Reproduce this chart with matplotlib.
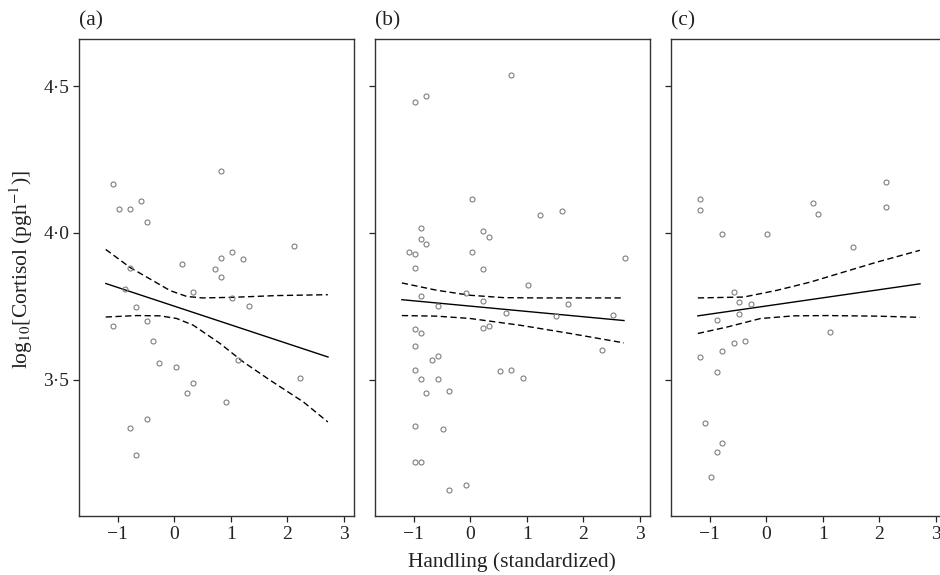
import matplotlib
matplotlib.use("Agg")
import matplotlib.pyplot as plt

plt.rcParams["font.family"] = ["Liberation Serif", "DejaVu Serif"]
plt.rcParams["mathtext.fontset"] = "stix"
plt.rcParams["axes.unicode_minus"] = True

# panel (a)
a_x = [-1.08, -0.97, -0.78, -0.58, -0.48, 0.82, 2.12, 1.02, 0.82, 1.22, 0.13,
       0.72, 0.82, -0.78, -0.87, 0.33, 1.02, 1.33, -0.68, -0.48, -1.08, -0.375,
       -0.27, 0.03, 1.13, 2.23, 0.33, 0.23, 0.92, -0.48, -0.78, -0.68]
a_y = [4.168, 4.08, 4.08, 4.11, 4.036, 4.212, 3.956, 3.934, 3.915, 3.913, 3.896,
       3.877, 3.85, 3.882, 3.81, 3.80, 3.78, 3.75, 3.747, 3.70, 3.684, 3.634,
       3.556, 3.543, 3.567, 3.507, 3.491, 3.456, 3.424, 3.367, 3.336, 3.243]
a_fit_x = [-1.21, 2.72]
a_fit_y = [3.828, 3.578]
a_up_x = [-1.212, -0.777, -0.370, -0.074, 0.221, 0.5, 1.023, 1.814, 2.717]
a_up_y = [3.944, 3.882, 3.837, 3.804, 3.784, 3.779, 3.781, 3.787, 3.79]
a_lo_x = [-1.212, -0.664, -0.251, 0.044, 0.338, 0.81, 1.223, 1.696, 2.285, 2.717]
a_lo_y = [3.714, 3.719, 3.718, 3.709, 3.686, 3.624, 3.561, 3.499, 3.425, 3.357]

# panel (b)
b_x = [0.725, -0.977, -0.777, 0.028, 1.227, 1.624, -0.876, 0.223, 0.324, -0.876,
       -0.777, -1.078, -0.977, 0.028, 2.729, -0.977, 0.223, 1.027, -0.078, -0.876,
       0.223, -0.574, 1.73, 0.624, 1.523, 2.521, -0.977, 0.223, 0.324,
       -0.876, -0.977, -0.676, -0.574, 2.326, -0.977, -0.876, -0.574, 0.53, 0.725,
       0.926, -0.777, -0.379, -0.977, -0.475, -0.977, -0.876, -0.078, -0.379]
b_y = [4.536, 4.444, 4.467, 4.116, 4.061, 4.076, 4.016, 4.006, 3.986, 3.98,
       3.963, 3.934, 3.93, 3.934, 3.916, 3.88, 3.878, 3.822, 3.796, 3.786,
       3.769, 3.752, 3.757, 3.727, 3.716, 3.72, 3.672, 3.677, 3.685,
       3.658, 3.615, 3.569, 3.583, 3.602, 3.533, 3.502, 3.504, 3.529, 3.535,
       3.508, 3.454, 3.464, 3.343, 3.332, 3.221, 3.221, 3.141, 3.124]
b_fit_x = [-1.21, 2.72]
b_fit_y = [3.773, 3.702]
b_up_x = [-1.21, -0.59, 0.0, 0.59, 1.18, 2.72]
b_up_y = [3.83, 3.805, 3.788, 3.78, 3.779, 3.779]
b_lo_x = [-1.21, -0.59, 0.0, 0.886, 1.77, 2.72]
b_lo_y = [3.719, 3.717, 3.709, 3.686, 3.658, 3.626]

# panel (c)
c_x = [-1.177, -1.177, -0.775, 0.021, 0.823, 0.924, 2.122, 2.122, 1.526, -0.575,
       -0.474, -0.274, -0.474, -0.876, 1.124, -0.575, -0.374, -0.775, -1.177,
       -0.876, -1.076, -0.775, -0.876, -0.975]
c_y = [4.114, 4.077, 3.996, 3.996, 4.103, 4.063, 4.173, 4.088, 3.952, 3.798,
       3.765, 3.758, 3.723, 3.703, 3.663, 3.626, 3.631, 3.60, 3.578,
       3.527, 3.352, 3.287, 3.254, 3.168]
c_fit_x = [-1.21, 2.72]
c_fit_y = [3.718, 3.827]
c_up_x = [-1.21, -0.398, 0.192, 0.782, 1.37, 1.96, 2.717]
c_up_y = [3.779, 3.782, 3.805, 3.833, 3.867, 3.901, 3.941]
c_lo_x = [-1.21, -0.692, -0.1, 0.49, 1.08, 1.96, 2.717]
c_lo_y = [3.658, 3.68, 3.709, 3.718, 3.719, 3.717, 3.713]

panel_labels = ["(a)", "(b)", "(c)"]
y_ticks = [3.5, 4.0, 4.5]
y_ticklabels = ["3\u00b75", "4\u00b70", "4\u00b75"]
x_ticks = [-1, 0, 1, 2, 3]

W, H = 940, 575
fig = plt.figure(figsize=(W / 100, H / 100), dpi=100)

lefts = [79, 375, 671]
top, bottom, width = 39, 516, 275

panels = [
    (a_x, a_y, a_fit_x, a_fit_y, a_up_x, a_up_y, a_lo_x, a_lo_y),
    (b_x, b_y, b_fit_x, b_fit_y, b_up_x, b_up_y, b_lo_x, b_lo_y),
    (c_x, c_y, c_fit_x, c_fit_y, c_up_x, c_up_y, c_lo_x, c_lo_y),
]

for i, (px, py, fx, fy, ux, uy, lx, ly) in enumerate(panels):
    ax = fig.add_axes([lefts[i] / W, (H - bottom) / H, width / W, (bottom - top) / H])
    ax.plot(px, py, "o", ms=3.6, mfc="none", mec="#7f7f7f", mew=0.8, zorder=3)
    ax.plot(fx, fy, color="black", lw=1.0)
    ax.plot(ux, uy, color="black", lw=1.0, dashes=(4.5, 2.5))
    ax.plot(lx, ly, color="black", lw=1.0, dashes=(4.5, 2.5))

    ax.set_xlim(-1.685, 3.18)
    ax.set_ylim(3.037, 4.66)
    ax.set_xticks(x_ticks)
    ax.set_yticks(y_ticks)
    if i == 0:
        ax.set_yticklabels(y_ticklabels)
    else:
        ax.set_yticklabels([])
    ax.tick_params(direction="out", length=4, width=0.9, labelsize=14,
                   color="#222222", pad=3, labelcolor="#222222")
    for s in ax.spines.values():
        s.set_color("#333333")
        s.set_linewidth(1.0)
    ax.annotate(panel_labels[i], xy=(0, 1), xycoords="axes fraction",
                xytext=(0, 10), textcoords="offset points",
                fontsize=15.5, va="baseline", ha="left", color="#222222")

fig.text(512 / W, 1 - 562 / H, "Handling (standardized)", fontsize=15.5,
         ha="center", va="center", color="#222222")
fig.text(21 / W, 1 - 270 / H, r"log$_{10}$[Cortisol (pgh$^{-1}$)]", fontsize=15.5,
         ha="center", va="center", rotation=90, color="#222222")

fig.savefig("out.png", dpi=100)
